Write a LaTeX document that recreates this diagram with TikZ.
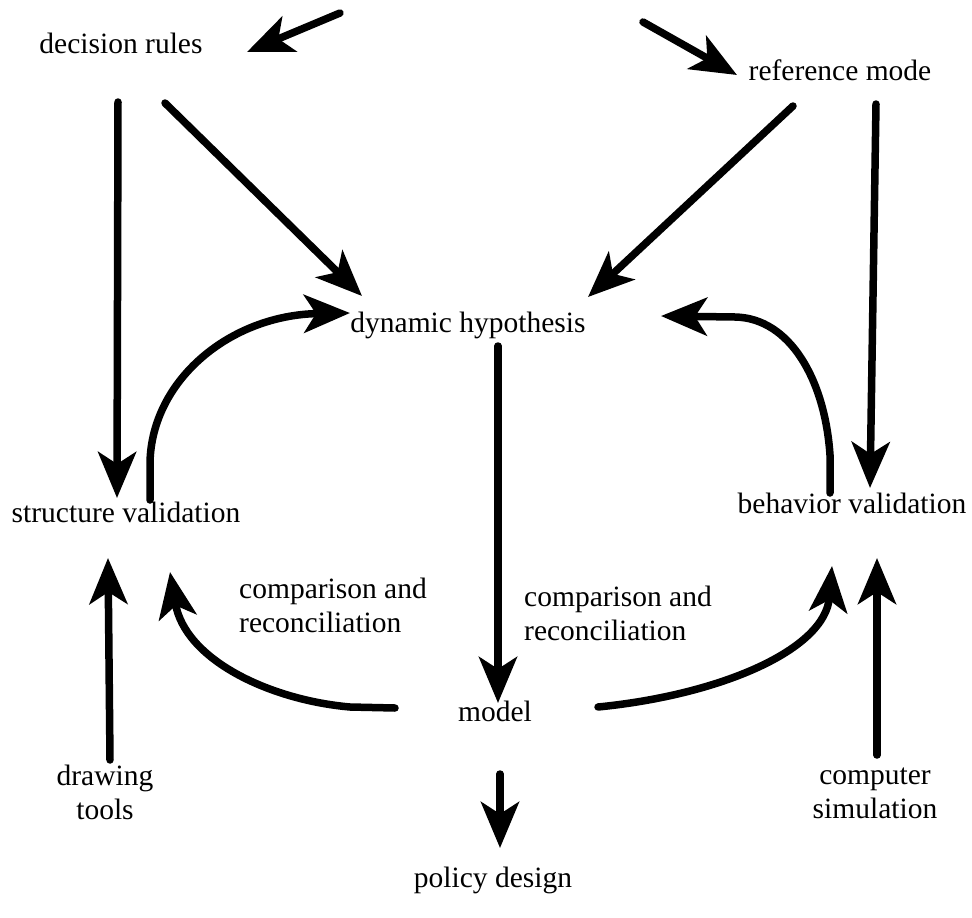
\documentclass[tikz,border=0pt]{standalone}
\usepackage{fontspec}
\setmainfont{Liberation Serif}
\usetikzlibrary{arrows.meta,calc}
\begin{document}
\begin{tikzpicture}[x=1pt,y=-1pt,
  lbl/.style={inner sep=0pt,font=\fontsize{29.5}{34}\selectfont,align=center},
  arr/.style={line width=7.5pt,line cap=round,line join=round,
    -{Stealth[length=46pt,width=38pt,inset=12pt]}}]
\useasboundingbox[fill=white] (0,0) rectangle (972,918);
% nodes
\node[lbl] (dr) at (121,43) {decision rules};
\node[lbl] (rm) at (840,70) {reference mode};
\node[lbl] (dh) at (468,325) {dynamic hypothesis};
\node[lbl] (sv) at (126,512) {structure validation};
\node[lbl] (bv) at (852,503) {behavior validation};
\node[lbl,align=left] (cl) at (333,605) {comparison and\\reconciliation};
\node[lbl,align=left] (cr) at (618,613) {comparison and\\reconciliation};
\node[lbl] (mo) at (495,711) {model};
\node[lbl] (dt) at (105,792) {drawing\\tools};
\node[lbl] (cs) at (875,793) {computer\\simulation};
\node[lbl] (pd) at (493,880) {policy design};
% free ends of the two top arrows
\coordinate (t1s) at (340,13);
\coordinate (t1e) at (247,52);
\coordinate (t2s) at (643,22);
\coordinate (t2e) at (737,75);
\draw[arr] (t1s) -- (t1e);
\draw[arr] (t2s) -- (t2e);
% connectors
\draw[arr] ($(dr)+(-3,59)$) -- ($(sv)+(-9,-14)$);
\draw[arr] ($(dr)+(44,60)$) -- ($(dh)+(-106,-29)$);
\draw[arr] ($(rm)+(-47,36)$) -- ($(dh)+(120,-28)$);
\draw[arr] ($(rm)+(36,34)$) -- ($(bv)+(18,-15)$);
\draw[arr] ($(sv)+(24,-12)$) -- ($(sv)+(24,-50)$)
  .. controls ($(sv)+(26,-132)$) and ($(dh)+(-238,-10)$) .. ($(dh)+(-118,-12)$);
\draw[arr] ($(bv)+(-22,-10)$) -- ($(bv)+(-22,-48)$)
  .. controls ($(bv)+(-27,-123)$) and ($(dh)+(322,-7)$) .. ($(dh)+(267,-8)$)
  -- ($(dh)+(193,-9)$);
\draw[arr] ($(dh)+(30,21)$) -- ($(mo)+(3,-8)$);
\draw[arr] ($(mo)+(-100,-3)$) -- ($(mo)+(-145,-4)$)
  .. controls ($(mo)+(-225,-11)$) and ($(mo)+(-310,-51)$) .. ($(sv)+(44,60)$);
\draw[arr] ($(mo)+(103,-4)$)
  .. controls ($(mo)+(225,-16)$) and ($(bv)+(-27,147)$) .. ($(bv)+(-20,63)$);
\draw[arr] ($(cs)+(2,-38)$) -- ($(bv)+(25,55)$);
\draw[arr] ($(dt)+(5,-32)$) -- ($(sv)+(-18,46)$);
\draw[arr] ($(mo)+(5,63)$) -- ($(pd)+(7,-32)$);
\end{tikzpicture}
\end{document}
